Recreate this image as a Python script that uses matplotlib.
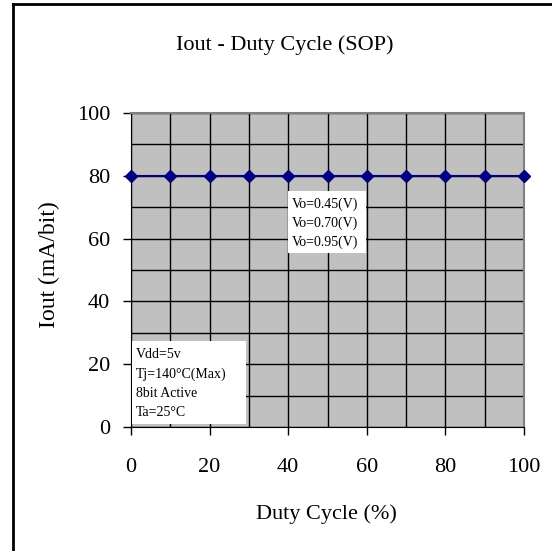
import matplotlib
matplotlib.use("Agg")
import matplotlib.pyplot as plt
from matplotlib.lines import Line2D
from matplotlib.patches import Rectangle

duty = [0, 10, 20, 30, 40, 50, 60, 70, 80, 90, 100]
iout = [80, 80, 80, 80, 80, 80, 80, 80, 80, 80, 80]
xticks = [0, 20, 40, 60, 80, 100]
yticks = [0, 20, 40, 60, 80, 100]
legend_lines = ["Vo=0.45(V)", "Vo=0.70(V)", "Vo=0.95(V)"]
cond_lines = ["Vdd=5v", "Tj=140°C(Max)", "8bit Active", "Ta=25°C"]

plt.rcParams['font.family'] = ['Liberation Serif', 'DejaVu Serif']

fig = plt.figure(figsize=(5.52, 5.51), dpi=100)
W, H = 552, 551
ax = fig.add_axes([131/W, 1-427/H, (524-131)/W, (427-113)/H])
ax.set_facecolor('#C0C0C0')
ax.set_xlim(0, 100)
ax.set_ylim(0, 100)
ax.set_axisbelow(True)
ax.set_xticks(xticks)
ax.set_yticks(yticks)
ax.set_xticks(range(10, 100, 20), minor=True)
ax.set_yticks(range(10, 100, 20), minor=True)
ax.grid(True, which='both', color='black', linewidth=1.0)
ax.tick_params(which='minor', length=0)
ax.set_xticklabels([str(v) for v in xticks], fontsize=16)
ax.set_yticklabels([str(v) for v in yticks], fontsize=16)
ax.tick_params(axis='x', which='major', direction='out', length=6, width=1, pad=16)
ax.tick_params(axis='y', which='major', direction='out', length=6, width=1, pad=9)
for s in ['top', 'right']:
    ax.spines[s].set_color('#808080')
    ax.spines[s].set_linewidth(1.5)
ax.spines['left'].set_color('black')
ax.spines['bottom'].set_color('black')

ax.plot(duty, iout, color='#000080', linewidth=1.5, marker='D', markersize=6,
        markerfacecolor='#000080', markeredgecolor='#000080', clip_on=False, zorder=5)

# legend-like box
ax.add_patch(Rectangle((39.95, 55.4), 19.85, 19.8, facecolor='white', edgecolor='none', zorder=6))
ax.text(41.0, 73.0, "\n".join(legend_lines), fontsize=10, va='top', ha='left',
        linespacing=1.52, zorder=7)
# condition box
ax.add_patch(Rectangle((0.25, 0.96), 29.05, 26.45, facecolor='white', edgecolor='none', zorder=6))
ax.text(1.3, 25.0, "\n".join(cond_lines), fontsize=10, va='top', ha='left',
        linespacing=1.58, zorder=7)

fig.text(285/W, 1-45/H, "Iout - Duty Cycle (SOP)", fontsize=16, ha='center', va='center')
fig.text(326/W, 1-514/H, "Duty Cycle (%)", fontsize=16, ha='center', va='center')
fig.text(49/W, 1-265/H, "Iout (mA/bit)", fontsize=17, ha='center', va='center', rotation=90)

# figure border (left and top)
fig.add_artist(Line2D([12.5/W, 12.5/W], [0, 1-4/H], color='black', linewidth=2, transform=fig.transFigure))
fig.add_artist(Line2D([12.5/W, 1], [1-4/H, 1-4/H], color='black', linewidth=2, transform=fig.transFigure))

fig.savefig("out.png", dpi=100)
